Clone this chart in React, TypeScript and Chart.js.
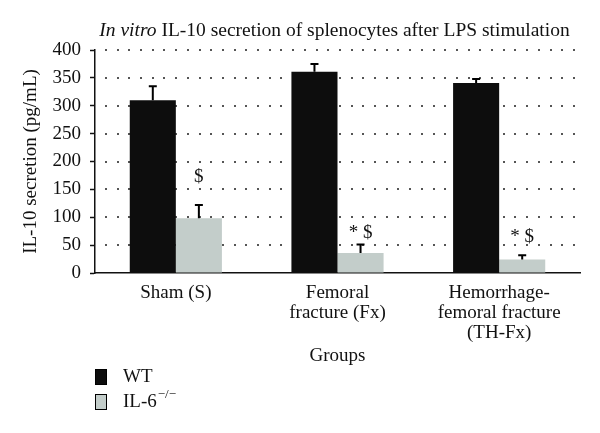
import React, { useEffect, useRef } from "react";
import { Chart, registerables } from "chart.js";

Chart.register(...registerables);

const categories: (string | string[])[] = [
  "Sham (S)",
  ["Femoral", "fracture (Fx)"],
  ["Hemorrhage-", "femoral fracture", "(TH-Fx)"],
];
const wtValues = [310, 361, 341];
const wtErrors = [25, 14, 7];
const il6Values = [98, 36, 24];
const il6Errors = [24, 15, 8];
const il6Marks = ["$", "* $", "* $"];
const il6MarkValues = [172, 71, 65];
const yTicks = [0, 50, 100, 150, 200, 250, 300, 350, 400];

const SERIF = "'Liberation Serif', 'Times New Roman', serif";
const WT_COLOR = "#0d0d0d";
const IL6_COLOR = "#c3cdca";

const errorBarPlugin = {
  id: "errorBars",
  beforeDatasetsDraw(chart: any) {
    // dotted horizontal grid lines at the y-axis ticks
    const ctx = chart.ctx;
    const y = chart.scales.y;
    const area = chart.chartArea;
    ctx.save();
    ctx.fillStyle = "#555";
    y.ticks.forEach((t: any) => {
      if (t.value === 0) return;
      const py = Math.round(y.getPixelForValue(t.value));
      for (let px = area.left + 10; px < area.right; px += 11.7) {
        ctx.fillRect(Math.round(px), py - 1, 2, 2);
      }
    });
    ctx.restore();
  },
  afterDatasetsDraw(chart: any) {
    const ctx = chart.ctx;
    const y = chart.scales.y;
    const errs = [wtErrors, il6Errors];
    ctx.save();
    ctx.strokeStyle = "#000";
    ctx.lineWidth = 2;
    chart.data.datasets.forEach((ds: any, di: number) => {
      const meta = chart.getDatasetMeta(di);
      meta.data.forEach((el: any, i: number) => {
        const top = y.getPixelForValue(ds.data[i] + errs[di][i]);
        ctx.beginPath();
        ctx.moveTo(el.x, el.y);
        ctx.lineTo(el.x, top);
        ctx.moveTo(el.x - 4, top);
        ctx.lineTo(el.x + 4, top);
        ctx.stroke();
      });
    });
    const meta = chart.getDatasetMeta(1);
    ctx.fillStyle = "#111";
    ctx.font = `19px ${SERIF}`;
    ctx.textAlign = "center";
    ctx.textBaseline = "middle";
    meta.data.forEach((el: any, i: number) => {
      ctx.fillText(il6Marks[i], el.x, y.getPixelForValue(il6MarkValues[i]));
    });
    ctx.restore();
  },
  afterDraw(chart: any) {
    const ctx = chart.ctx;
    const area = chart.chartArea;
    ctx.save();
    ctx.fillStyle = "#111";
    ctx.textBaseline = "middle";
    const italic = "In vitro";
    const rest = " IL-10 secretion of splenocytes after LPS stimulation";
    const fs = 19.5;
    ctx.font = `italic ${fs}px ${SERIF}`;
    const w1 = ctx.measureText(italic).width;
    ctx.font = `${fs}px ${SERIF}`;
    const w2 = ctx.measureText(rest).width;
    const cx = (area.left + area.right) / 2 - 3;
    const x0 = cx - (w1 + w2) / 2;
    const ty = 23;
    ctx.textAlign = "left";
    ctx.font = `italic ${fs}px ${SERIF}`;
    ctx.fillText(italic, x0, ty);
    ctx.font = `${fs}px ${SERIF}`;
    ctx.fillText(rest, x0 + w1, ty);

    const lx = area.left;
    const items = [
      { color: WT_COLOR, text: "WT", sup: "", cy: 369 },
      { color: IL6_COLOR, text: "IL-6", sup: "\u2212/\u2212", cy: 394 },
    ];
    items.forEach((it) => {
      ctx.fillStyle = it.color;
      ctx.fillRect(lx, it.cy - 8, 12, 16);
      ctx.strokeStyle = "#000";
      ctx.lineWidth = 1;
      ctx.strokeRect(lx + 0.5, it.cy - 7.5, 11, 15);
      ctx.fillStyle = "#111";
      ctx.font = `19px ${SERIF}`;
      ctx.fillText(it.text, lx + 28, it.cy);
      if (it.sup) {
        const tw = ctx.measureText(it.text).width;
        ctx.font = `13px ${SERIF}`;
        ctx.fillText(it.sup, lx + 28 + tw + 1, it.cy - 7);
      }
    });
    ctx.restore();
  },
};

export default function App() {
  const ref = useRef<HTMLCanvasElement | null>(null);
  useEffect(() => {
    if (!ref.current) return;
    const chart = new Chart(ref.current, {
      type: "bar",
      data: {
        labels: categories,
        datasets: [
          {
            label: "WT",
            data: wtValues,
            backgroundColor: WT_COLOR,
            borderWidth: 0,
            categoryPercentage: 0.57,
            barPercentage: 1,
          },
          {
            label: "IL-6-/-",
            data: il6Values,
            backgroundColor: IL6_COLOR,
            borderWidth: 0,
            categoryPercentage: 0.57,
            barPercentage: 1,
          },
        ],
      },
      options: {
        animation: false,
        responsive: true,
        maintainAspectRatio: false,
        layout: { padding: { left: 0, right: 12, top: 42, bottom: 62 } },
        plugins: {
          legend: { display: false },
          title: { display: false },
          tooltip: { enabled: false },
        },
        scales: {
          x: {
            grid: { display: false, drawTicks: false },
            border: { display: true, color: "#111", width: 1.5 },
            ticks: {
              color: "#111",
              padding: 10,
              font: { family: SERIF, size: 19, lineHeight: 1.05 },
              maxRotation: 0,
              autoSkip: false,
            },
            title: {
              display: true,
              text: "Groups",
              color: "#111",
              font: { family: SERIF, size: 19, lineHeight: 1.2 },
              padding: { top: 0, bottom: 4 },
            },
            afterFit(scale: any) {
              scale.height = 98;
            },
          },
          y: {
            min: 0,
            max: 400,
            afterBuildTicks(scale: any) {
              scale.ticks = yTicks.map((v) => ({ value: v }));
            },
            grid: {
              drawOnChartArea: false,
              color: "#111",
              tickColor: "#111",
              tickLength: 5,
              tickWidth: 1.5,
            },
            border: { display: true, color: "#111", width: 1.5 },
            ticks: {
              color: "#111",
              padding: 9,
              font: { family: SERIF, size: 19 },
            },
            title: {
              display: true,
              text: "IL-10 secretion (pg/mL)",
              color: "#111",
              font: { family: SERIF, size: 19, lineHeight: 1.2 },
              padding: { top: 12, bottom: 0 },
            },
            afterFit(scale: any) {
              scale.width = 87;
            },
          },
        },
      },
      plugins: [errorBarPlugin],
    } as any);
    return () => chart.destroy();
  }, []);
  return (
    <div style={{ width: 584, height: 425, position: "relative" }}>
      <canvas ref={ref} />
    </div>
  );
}
